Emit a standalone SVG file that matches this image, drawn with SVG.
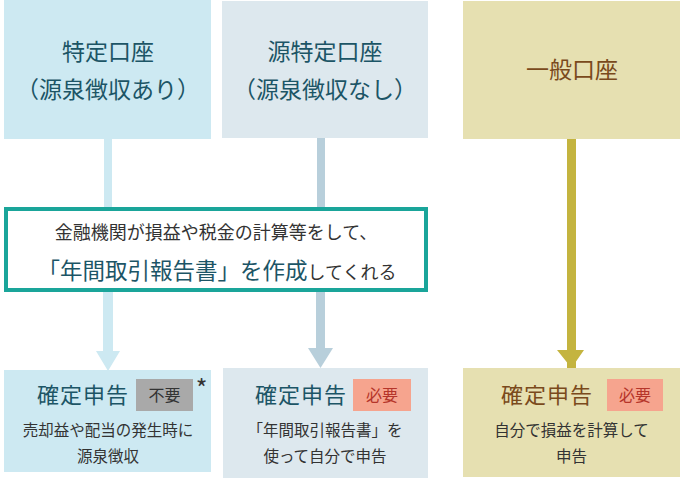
<svg xmlns="http://www.w3.org/2000/svg" width="680" height="481" viewBox="0 0 680 481">
<defs>
<style>
text{font-family:"Noto Sans CJK JP","Noto Sans",sans-serif;text-anchor:middle}
.head{font-size:23px;fill:#1c5566}
.headb{font-size:23px;fill:#7a4a1c}
.title{font-size:22px;fill:#1c5566;letter-spacing:1px}
.titleb{font-size:22px;fill:#7a4a1c;letter-spacing:1px}
.body{font-size:15.5px;fill:#333}
.badge{font-size:16px}
</style>
</defs>
<rect width="680" height="481" fill="#fff"/>
<g id="connectors">
<rect x="104" y="139" width="8" height="70" fill="#cde9f2"/>
<rect x="317" y="138" width="8" height="71" fill="#b8cfdb"/>
<rect x="567" y="139" width="9" height="230" fill="#c4b43f"/>
<path d="M103,292 H113 V351 H120 L108,371 L96,351 H103 Z" fill="#cde9f2"/>
<path d="M316,292 H325 V348 H333 L320.5,368 L308,348 H316 Z" fill="#b8cfdb"/>
<path d="M567,330 H576 V350 H584 L571.5,368 L557,350 H567 Z" fill="#c4b43f"/>
</g>
<g id="box-tokutei">
<rect x="4" y="0" width="207" height="139" fill="#cde9f2"/>
<text class="head" x="108" y="60">特定口座</text>
<text class="head" x="108" y="98">（源泉徴収あり）</text>
</g>
<g id="box-gentokutei">
<rect x="222" y="1" width="206" height="137" fill="#dde8ee"/>
<text class="head" x="325" y="60">源特定口座</text>
<text class="head" x="325" y="98">（源泉徴収なし）</text>
</g>
<g id="box-ippan">
<rect x="463" y="1" width="217" height="138" fill="#e6e0b1"/>
<text class="headb" x="572" y="78">一般口座</text>
</g>
<g id="box-report">
<rect x="6" y="209" width="420" height="81" fill="#fff" stroke="#1aa59a" stroke-width="4"/>
<text x="216" y="239" style="font-size:18px;fill:#333">金融機関が損益や税金の計算等をして、</text>
<text x="217" y="279" style="font-size:18px;fill:#333"><tspan style="font-size:22.5px;fill:#1c5566">「年間取引報告書」を作成</tspan>してくれる</text>
</g>
<g id="result-tokutei">
<rect x="4" y="370" width="207" height="102" fill="#cde9f2"/>
<text class="title" x="83" y="403">確定申告</text>
<rect x="136" y="379" width="57" height="32" fill="#a9a9a9"/>
<text class="badge" x="164.5" y="401" fill="#333">不要</text>
<text x="201.5" y="398" style="font-size:25px;fill:#333">*</text>
<text class="body" x="108" y="436">売却益や配当の発生時に</text>
<text class="body" x="108" y="462">源泉徴収</text>
</g>
<g id="result-gentokutei">
<rect x="223" y="368" width="205" height="110" fill="#dde8ee"/>
<text class="title" x="301" y="403">確定申告</text>
<rect x="353" y="379" width="58" height="32" fill="#f6a48e"/>
<text class="badge" x="382" y="401" fill="#b5352a">必要</text>
<text class="body" x="325" y="436">「年間取引報告書」を</text>
<text class="body" x="325" y="462">使って自分で申告</text>
</g>
<g id="result-ippan">
<rect x="463" y="368" width="217" height="109" fill="#e6e0b1"/>
<text class="titleb" x="547" y="403">確定申告</text>
<rect x="607" y="379" width="56" height="32" fill="#f6a48e"/>
<text class="badge" x="635" y="401" fill="#b5352a">必要</text>
<text class="body" x="571.5" y="436">自分で損益を計算して</text>
<text class="body" x="571.5" y="462">申告</text>
</g>
</svg>
